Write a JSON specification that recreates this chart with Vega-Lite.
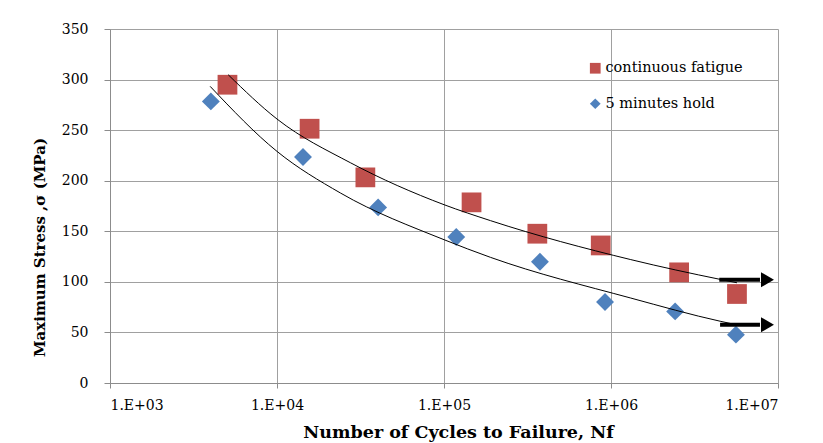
{
  "$schema": "https://vega.github.io/schema/vega-lite/v6.json",
  "width": 668,
  "height": 354,
  "autosize": {"type": "none"},
  "padding": {"left": 110, "top": 29, "right": 45, "bottom": 60},
  "background": "white",
  "config": {
    "font": "DejaVu Serif",
    "view": {"stroke": null},
    "axis": {
      "gridColor": "#a0a0a0",
      "gridWidth": 1,
      "gridOpacity": 1,
      "domainColor": "#8c8c8c",
      "tickColor": "#8c8c8c",
      "labelColor": "#000000",
      "titleColor": "#000000",
      "labelFont": "DejaVu Serif",
      "titleFont": "DejaVu Serif",
      "titleFontWeight": "bold"
    },
    "legend": {
      "labelFont": "DejaVu Serif",
      "labelColor": "#000000"
    }
  },
  "datasets": {
    "points": [
      {"series": "continuous fatigue", "N": 5051, "stress": 294.9},
      {"series": "continuous fatigue", "N": 15675, "stress": 251.4},
      {"series": "continuous fatigue", "N": 33820, "stress": 203.3},
      {"series": "continuous fatigue", "N": 146200, "stress": 178.6},
      {"series": "continuous fatigue", "N": 362200, "stress": 147.6},
      {"series": "continuous fatigue", "N": 868000, "stress": 136.0},
      {"series": "continuous fatigue", "N": 2559000, "stress": 109.4},
      {"series": "continuous fatigue", "N": 5680000, "stress": 88.0},
      {"series": "5 minutes hold", "N": 4017, "stress": 278.4},
      {"series": "5 minutes hold", "N": 14310, "stress": 223.5},
      {"series": "5 minutes hold", "N": 40320, "stress": 173.6},
      {"series": "5 minutes hold", "N": 118400, "stress": 144.4},
      {"series": "5 minutes hold", "N": 375400, "stress": 119.9},
      {"series": "5 minutes hold", "N": 921000, "stress": 80.1},
      {"series": "5 minutes hold", "N": 2421000, "stress": 70.8},
      {"series": "5 minutes hold", "N": 5600000, "stress": 47.8}
    ],
    "curves": [
      {"curve": "upper", "N": 5101, "stress": 304.8},
      {"curve": "upper", "N": 10000, "stress": 261.0},
      {"curve": "upper", "N": 27500, "stress": 217.8},
      {"curve": "upper", "N": 100000, "stress": 176.3},
      {"curve": "upper", "N": 190100, "stress": 160.5},
      {"curve": "upper", "N": 1313000, "stress": 122.0},
      {"curve": "upper", "N": 4550000, "stress": 102.3},
      {"curve": "upper", "N": 5680000, "stress": 99.1},
      {"curve": "lower", "N": 3978, "stress": 293.3},
      {"curve": "lower", "N": 10000, "stress": 229.0},
      {"curve": "lower", "N": 23950, "stress": 187.9},
      {"curve": "lower", "N": 100000, "stress": 141.7},
      {"curve": "lower", "N": 190100, "stress": 124.2},
      {"curve": "lower", "N": 1313000, "stress": 84.0},
      {"curve": "lower", "N": 4550000, "stress": 60.9},
      {"curve": "lower", "N": 5600000, "stress": 57.7}
    ],
    "arrows": [
      {"from": 4450000, "to": 7800000, "head": 8650000, "stress": 102.1},
      {"from": 4500000, "to": 7800000, "head": 8650000, "stress": 57.6}
    ]
  },
  "layer": [
    {
      "data": {"name": "points"},
      "transform": [{"filter": "datum.series === 'continuous fatigue'"}],
      "mark": {"type": "point", "filled": true, "opacity": 1, "strokeWidth": 0, "size": 390},
      "encoding": {
        "x": {
          "field": "N",
          "type": "quantitative",
          "scale": {"type": "log", "domain": [1000, 10000000], "nice": false},
          "axis": {
            "values": [1000, 10000, 100000, 1000000, 10000000],
            "labelExpr": "'1.E+0' + format(log(datum.value) / LN10, '.0f')",
            "labelFontSize": 14,
            "labelPadding": 10,
            "tickSize": 5,
            "title": "Number of Cycles to Failure, Nf",
            "titleFontSize": 17.5,
            "titlePadding": 11,
            "titleX": 348,
            "grid": true
          }
        },
        "y": {
          "field": "stress",
          "type": "quantitative",
          "scale": {"domain": [0, 350], "nice": false},
          "axis": {
            "values": [0, 50, 100, 150, 200, 250, 300, 350],
            "labelFontSize": 14,
            "labelPadding": 16,
            "tickSize": 6,
            "title": "Maximum Stress ,σ (MPa)",
            "titleFontSize": 15,
            "titlePadding": 14,
            "titleY": 218,
            "grid": true
          }
        },
        "color": {
          "field": "series",
          "type": "nominal",
          "scale": {"domain": ["continuous fatigue", "5 minutes hold"], "range": ["#c0504d", "#4f81bd"]},
          "legend": {
            "title": null,
            "orient": "none",
            "legendX": 478,
            "legendY": 32,
            "padding": 0,
            "labelFontSize": 14.5,
            "labelOffset": 3,
            "symbolSize": 115,
            "rowPadding": 20.5,
            "symbolStrokeWidth": 0
          }
        },
        "shape": {
          "field": "series",
          "type": "nominal",
          "scale": {"domain": ["continuous fatigue", "5 minutes hold"], "range": ["square", "diamond"]},
          "legend": {
            "title": null,
            "orient": "none",
            "legendX": 478,
            "legendY": 32,
            "padding": 0,
            "labelFontSize": 14.5,
            "labelOffset": 3,
            "symbolSize": 115,
            "rowPadding": 20.5,
            "symbolStrokeWidth": 0
          }
        }
      }
    },
    {
      "data": {"name": "points"},
      "transform": [{"filter": "datum.series === '5 minutes hold'"}],
      "mark": {"type": "point", "filled": true, "opacity": 1, "strokeWidth": 0, "size": 320},
      "encoding": {
        "x": {"field": "N", "type": "quantitative"},
        "y": {"field": "stress", "type": "quantitative"},
        "color": {"field": "series", "type": "nominal"},
        "shape": {"field": "series", "type": "nominal"}
      }
    },
    {
      "data": {"name": "curves"},
      "mark": {"type": "line", "color": "#000000", "strokeWidth": 1, "interpolate": "monotone"},
      "encoding": {
        "x": {"field": "N", "type": "quantitative"},
        "y": {"field": "stress", "type": "quantitative"},
        "detail": {"field": "curve", "type": "nominal"}
      }
    },
    {
      "data": {"name": "arrows"},
      "mark": {"type": "rule", "color": "#000000", "strokeWidth": 4},
      "encoding": {
        "x": {"field": "from", "type": "quantitative"},
        "x2": {"field": "to"},
        "y": {"field": "stress", "type": "quantitative"}
      }
    },
    {
      "data": {"name": "arrows"},
      "mark": {"type": "point", "shape": "triangle-right", "filled": true, "color": "#000000", "opacity": 1, "size": 225, "strokeWidth": 0},
      "encoding": {
        "x": {"field": "head", "type": "quantitative"},
        "y": {"field": "stress", "type": "quantitative"}
      }
    }
  ]
}
